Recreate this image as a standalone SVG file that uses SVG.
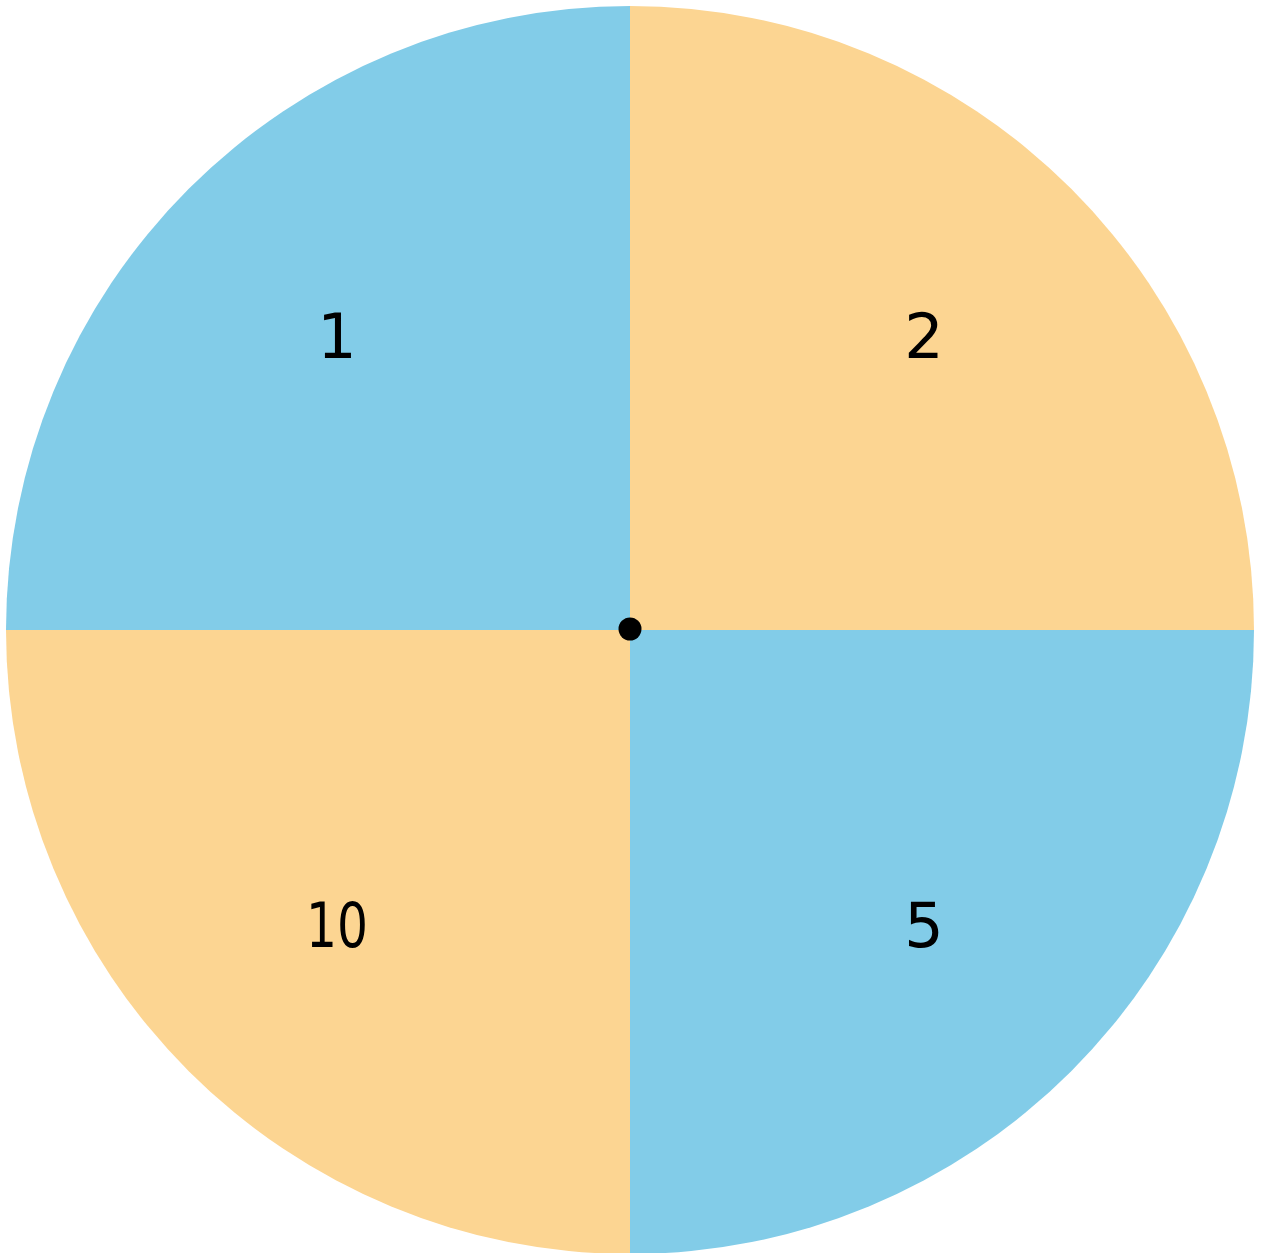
<svg xmlns="http://www.w3.org/2000/svg" width="1262" height="1253" viewBox="0 0 1262 1253">
<style>
.blue{fill:#82CCE8}
.orange{fill:#FCD592}
.lbl{font-family:"DejaVu Sans","Liberation Sans",sans-serif;font-size:62px;fill:#000;text-anchor:middle}
</style>
<rect width="1262" height="1253" fill="#fff"/>
<g id="s1"><path class="blue" d="M630,630 L6,630 A624,624 0 0 1 630,6 Z"/><text class="lbl" x="337" y="358">1</text></g>
<g id="s2"><path class="orange" d="M630,630 L630,6 A624,624 0 0 1 1254,630 Z"/><text class="lbl" x="924" y="358">2</text></g>
<g id="s5"><path class="blue" d="M630,630 L1254,630 A624,624 0 0 1 630,1254 Z"/><text class="lbl" x="924" y="947">5</text></g>
<g id="s10"><path class="orange" d="M630,630 L630,1254 A624,624 0 0 1 6,630 Z"/><text class="lbl" x="337" y="947" textLength="62" lengthAdjust="spacingAndGlyphs">10</text></g>
<g id="center"><circle cx="630" cy="629" r="11.5" fill="#000"/></g>
</svg>
